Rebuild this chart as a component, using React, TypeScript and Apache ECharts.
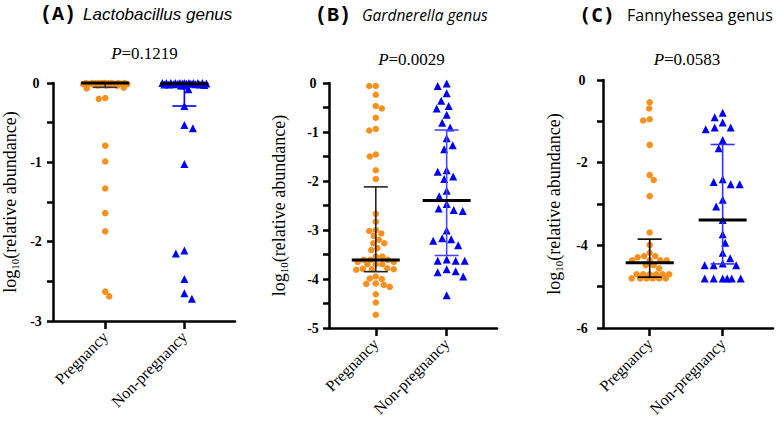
import React, { useEffect, useRef } from 'react';
import * as echarts from 'echarts';

// ---------------- data ----------------
const categories = ['Pregnancy', 'Non-pregnancy'];
const panelTags = ['(A)', '(B)', '(C)'];
const panelGenus = ['Lactobacillus genus', 'Gardnerella genus', 'Fannyhessea genus'];
const pValues = ['0.1219', '0.0029', '0.0583'];

// Panel A: Lactobacillus (log10 relative abundance)
const aPregnancy = [
  0, 0, 0, 0, 0, 0, 0, 0, -0.005, -0.005, -0.01, -0.01, -0.01, -0.015, -0.015, -0.02, -0.02,
  -0.02, -0.025, -0.03, -0.03, -0.035, -0.06, -0.07, -0.19, -0.2,
  -0.79, -0.99, -1.33, -1.64, -1.87, -2.63, -2.69,
];
const aNonPregnancy = [
  0, 0, 0, 0, 0, 0, 0, 0, 0, 0, -0.005, -0.005, -0.01, -0.01, -0.01, -0.015, -0.015, -0.02,
  -0.02, -0.02, -0.025, -0.03, -0.03, -0.08, -0.29, -0.53, -0.57, -1.02, -2.11, -2.15, -2.47,
  -2.65, -2.72,
];
// [median, lower, upper]
const aSummary = [
  [0, -0.055, 0],
  [-0.01, -0.29, 0],
];

// Panel B: Gardnerella
const bPregnancy = [
  -0.06, -0.06, -0.24, -0.47, -0.52, -0.71, -0.94, -0.97, -1.46, -1.5, -1.78, -1.96, -2.67,
  -2.83, -3.0, -3.02, -3.07, -3.12, -3.2, -3.27, -3.27, -3.37, -3.41,
  -3.54, -3.54, -3.61, -3.61, -3.65, -3.65, -3.7, -3.7, -3.7, -3.61,
  -3.78, -3.8, -3.8, -3.81, -3.79,
  -3.95, -3.99, -4.0, -4.09, -4.1, -4.12, -4.16, -4.31, -4.48, -4.73,
];
const bNonPregnancy = [
  -0.01, -0.06, -0.21, -0.36, -0.47, -0.52, -0.65, -0.81, -0.91, -1.13, -1.27, -1.35, -1.78,
  -1.81, -1.91, -1.96, -2.2, -2.31, -2.47, -2.56, -2.59, -2.61, -3.01, -3.17, -3.19, -3.22,
  -3.31, -3.6, -3.63, -3.63, -3.63, -3.8, -3.84, -3.86, -3.95, -4.33,
];
const bSummary = [
  [-3.61, -3.85, -2.12],
  [-2.4, -3.52, -0.96],
];

// Panel C: Fannyhessea
const cPregnancy = [
  -0.54, -0.69, -0.95, -0.98, -1.57, -2.3, -2.42, -2.81, -3.69, -3.99, -4.18, -4.26, -4.26,
  -4.29, -4.36, -4.36, -4.36, -4.36, -4.48, -4.48, -4.56, -4.7, -4.7, -4.7, -4.7, -4.7,
  -4.7, -4.8, -4.8, -4.8, -4.8, -4.8, -4.8,
];
const cNonPregnancy = [
  -0.79, -0.9, -1.03, -1.15, -1.15, -1.19, -1.45, -1.65, -2.4, -2.47, -2.52, -2.52, -2.9,
  -3.06, -3.39, -3.73, -3.94, -4.18, -4.31, -4.44, -4.48, -4.48, -4.48, -4.8, -4.8, -4.8,
  -4.8, -4.8, -4.8,
];
const cSummary = [
  [-4.42, -4.77, -3.85],
  [-3.39, -4.45, -1.56],
];

const groups = [
  [aPregnancy, aNonPregnancy],
  [bPregnancy, bNonPregnancy],
  [cPregnancy, cNonPregnancy],
];
const summaries = [aSummary, bSummary, cSummary];

// ---------------- layout / style ----------------
const ORANGE = '#F7901E';
const BLUE = '#0000F5';
const SERIF = 'Liberation Serif';

const panels = [
  { grid: { left: 53, top: 83, width: 182, height: 238 }, xMin: -0.66, xMax: 1.64, yMin: -3, yMax: 0, interval: 1, labelMargin: 17, nameGap: 33, errColors: ['#333', BLUE] },
  { grid: { left: 329, top: 83, width: 168, height: 245 }, xMin: -0.66, xMax: 1.71, yMin: -5, yMax: 0, interval: 1, labelMargin: 16, nameGap: 40, errColors: ['#222', '#4848FF'] },
  { grid: { left: 603, top: 80, width: 170, height: 248 }, xMin: -0.64, xMax: 1.69, yMin: -6, yMax: 0, interval: 2, labelMargin: 21, nameGap: 39, errColors: ['#000', '#3030FF'] },
];

function swarm(values: number[], cat: number, xUnitPerPx: number, yPxPerUnit: number, sep: number, maxHalf: number) {
  const order = values.map((_, i) => i).sort((a, b) => values[b] - values[a]);
  const placed: { x: number; y: number }[] = [];
  const out: number[][] = [];
  let flip = false;
  for (const i of order) {
    const y = -values[i] * yPxPerUnit;
    let chosen = 0;
    let found = false;
    let bestD = -1;
    let bestX = 0;
    for (let s = 0; s <= maxHalf && !found; s += 0.5) {
      const cands = s === 0 ? [0] : flip ? [-s, s] : [s, -s];
      for (const x of cands) {
        let minD = Infinity;
        for (const p of placed) {
          const d = Math.hypot(p.x - x, p.y - y);
          if (d < minD) minD = d;
        }
        if (minD >= sep) {
          chosen = x;
          found = true;
          break;
        }
        if (minD > bestD) {
          bestD = minD;
          bestX = x;
        }
      }
    }
    if (!found) chosen = bestX;
    flip = !flip;
    placed.push({ x: chosen, y });
    out.push([cat + chosen * xUnitPerPx, values[i]]);
  }
  return out;
}

export default function App() {
  const ref = useRef<HTMLDivElement>(null);
  useEffect(() => {
    if (!ref.current) return;
    const chart = echarts.init(ref.current, undefined, { renderer: 'svg' });

    const grids: any[] = [];
    const xAxes: any[] = [];
    const yAxes: any[] = [];
    const series: any[] = [];
    const graphics: any[] = [];

    panels.forEach((p, pi) => {
      grids.push({ ...p.grid, outerBoundsMode: 'none' });
      xAxes.push({
        type: 'value',
        gridIndex: pi,
        min: p.xMin,
        max: p.xMax,
        splitLine: { show: false },
        axisLine: { show: true, onZero: false, lineStyle: { color: '#000', width: 2.5 } },
        axisTick: { show: true, customValues: [0, 1], length: 8, lineStyle: { color: '#000', width: 2.5 } },
        axisLabel: {
          customValues: [0, 1],
          formatter: (v: number) => categories[Math.round(v)] ?? '',
          rotate: 45,
          margin: 13,
          fontFamily: SERIF,
          fontSize: 16,
          color: '#000',
        },
      });
      yAxes.push({
        type: 'value',
        gridIndex: pi,
        min: p.yMin,
        max: p.yMax,
        interval: p.interval,
        splitLine: { show: false },
        minorSplitLine: { show: false },
        axisLine: { show: true, onZero: false, lineStyle: { color: '#000', width: 2.5 } },
        axisTick: { show: true, length: 6, lineStyle: { color: '#000', width: 2.5 } },
        minorTick: { show: true, splitNumber: 2, length: 6, lineStyle: { color: '#000', width: 2.5 } },
        axisLabel: {
          color: '#000',
          align: 'center',
          margin: p.labelMargin,
          fontWeight: 'bold',
          fontFamily: SERIF,
          fontSize: 14,
        },
        name: '{a|log}{s|10}{a|(relative abundance)}',
        nameLocation: 'middle',
        nameGap: p.nameGap,
        nameTextStyle: {
          rich: {
            a: { fontFamily: SERIF, fontSize: 18, lineHeight: 20, verticalAlign: 'middle', color: '#000' },
            s: { fontFamily: SERIF, fontSize: 11, lineHeight: 10, verticalAlign: 'bottom', color: '#000' },
          },
        },
      });

      const xUnitPerPx = (p.xMax - p.xMin) / p.grid.width;
      const yPxPerUnit = p.grid.height / (p.yMax - p.yMin);
      const [preg, non] = groups[pi];
      series.push({
        type: 'scatter',
        xAxisIndex: pi,
        yAxisIndex: pi,
        symbol: 'circle',
        symbolSize: 6.5,
        clip: false,
        itemStyle: { color: ORANGE, opacity: 1 },
        data: swarm(preg, 0, xUnitPerPx, yPxPerUnit, 6.2, 22),
      });
      series.push({
        type: 'scatter',
        xAxisIndex: pi,
        yAxisIndex: pi,
        symbol: 'triangle',
        symbolSize: 8,
        clip: false,
        itemStyle: { color: BLUE, opacity: 1 },
        data: swarm(non, 1, xUnitPerPx, yPxPerUnit, 9, 22),
      });
      series.push({
        type: 'custom',
        xAxisIndex: pi,
        yAxisIndex: pi,
        clip: false,
        z: 4,
        data: summaries[pi].map((s, ci) => [ci, s[0], s[1], s[2]]),
        renderItem: (params: any, api: any) => {
          const c = api.value(0);
          const pm = api.coord([c, api.value(1)]);
          const pl = api.coord([c, api.value(2)]);
          const ph = api.coord([c, api.value(3)]);
          const col = p.errColors[c];
          const ew = 1.6;
          return {
            type: 'group',
            children: [
              { type: 'line', shape: { x1: pm[0], y1: ph[1], x2: pm[0], y2: pl[1] }, style: { stroke: col, lineWidth: ew } },
              { type: 'line', shape: { x1: pm[0] - 12, y1: ph[1], x2: pm[0] + 12, y2: ph[1] }, style: { stroke: col, lineWidth: ew } },
              { type: 'line', shape: { x1: pm[0] - 12, y1: pl[1], x2: pm[0] + 12, y2: pl[1] }, style: { stroke: col, lineWidth: ew } },
              { type: 'line', shape: { x1: pm[0] - 24, y1: pm[1], x2: pm[0] + 24, y2: pm[1] }, style: { stroke: '#000', lineWidth: 3 } },
            ],
          };
        },
      });
    });

    // titles
    const tagFonts = ['bold 20px "Liberation Mono", monospace', 'bold 20px "Liberation Mono", monospace', 'bold 20px "DejaVu Sans Mono", monospace'];
    const genusFonts = ['italic 17px "Liberation Sans", Arial, sans-serif', 'italic 15.5px "Open Sans", sans-serif', '16px "Open Sans", sans-serif'];
    const tagX = [40, 315, 579];
    const genusX = [83, 362, 627];
    const titleY = [14, 15, 15];
    const pX = [144.5, 411.5, 687];
    const pY = [53, 59, 59];
    panels.forEach((_, pi) => {
      graphics.push({
        type: 'text', x: tagX[pi], y: titleY[pi],
        style: { text: panelTags[pi], font: tagFonts[pi], fill: '#000', align: 'left', verticalAlign: 'middle', textAlign: 'left', textVerticalAlign: 'middle' },
      });
      graphics.push({
        type: 'text', x: genusX[pi], y: titleY[pi],
        style: { text: panelGenus[pi], font: genusFonts[pi], fill: '#000', align: 'left', verticalAlign: 'middle', textAlign: 'left', textVerticalAlign: 'middle' },
      });
      graphics.push({
        type: 'text', x: pX[pi], y: pY[pi],
        style: {
          text: '{i|P}=' + pValues[pi],
          font: '17px "Liberation Serif"',
          fill: '#000',
          align: 'center', verticalAlign: 'middle', textAlign: 'center', textVerticalAlign: 'middle',
          rich: { i: { fontStyle: 'italic', fontFamily: SERIF, fontSize: 17, fill: '#000' } },
        },
      });
    });

    chart.setOption({
      animation: false,
      grid: grids,
      xAxis: xAxes,
      yAxis: yAxes,
      series,
      graphic: { elements: graphics },
    });
    return () => chart.dispose();
  }, []);
  return <div ref={ref} style={{ width: 780, height: 430, position: 'absolute', left: 0, top: 0 }} />;
}
